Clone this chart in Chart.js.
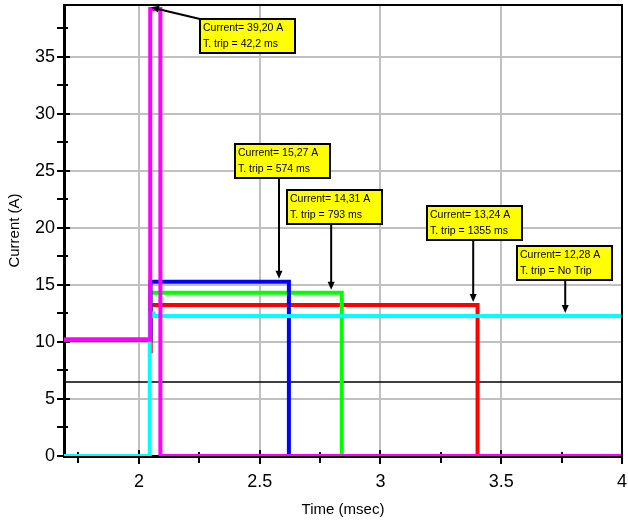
<!DOCTYPE html>
<html>
<head>
<meta charset="utf-8">
<script src="https://cdn.jsdelivr.net/npm/chart.js@4.4.0/dist/chart.umd.min.js"></script>
<style>
  html, body { margin: 0; padding: 0; background: #fff; }
  #trip-chart { display: block; }
</style>
</head>
<body>
<canvas id="trip-chart" width="628" height="522"></canvas>
<script>
const xMin = 1.69
const xMax = 4
const yMax = 39.55

// traces: time and current (A)
const magentaTime = [1.69, 2.047, 2.047, 2.089, 2.089, 4]
const magentaCurrent = [10.2, 10.2, 39.2, 39.2, 0, 0]
const blueTime = [1.69, 2.048, 2.048, 2.621, 2.621, 4]
const blueCurrent = [10.2, 10.2, 15.27, 15.27, 0, 0]
const greenTime = [1.69, 2.048, 2.048, 2.84, 2.84, 4]
const greenCurrent = [10.2, 10.2, 14.31, 14.31, 0, 0]
const redTime = [1.69, 2.047, 2.047, 2.05, 2.05, 3.402, 3.402, 4]
const redCurrent = [10.2, 10.2, 9.0, 9.0, 13.24, 13.24, 0, 0]
const cyanTime = [1.69, 2.045, 2.045, 2.06, 2.06, 4]
const cyanCurrent = [0, 0, 12.5, 12.5, 12.28, 12.28]
const thresholdTime = [1.69, 4]
const thresholdCurrent = [6.5, 6.5]

const xTicks = [2, 2.5, 3, 3.5, 4]
const xMinorTicks = [1.75, 2.25, 2.75, 3.25, 3.75]
const yTicks = [0, 5, 10, 15, 20, 25, 30, 35]
const yMinorTicks = [2.5, 7.5, 12.5, 17.5, 22.5, 27.5, 32.5, 37.5]

// callouts: text, the point each one points at, and where its box sits
const noteLines = [
  ['Current= 39,20 A', 'T. trip = 42,2 ms'],
  ['Current= 15,27 A', 'T. trip = 574 ms'],
  ['Current= 14,31 A', 'T. trip = 793 ms'],
  ['Current= 13,24 A', 'T. trip = 1355 ms'],
  ['Current= 12,28 A', 'T. trip = No Trip']
]
const noteTime = [2.05, 2.58, 2.796, 3.384, 3.765]
const noteCurrent = [39.35, 15.27, 14.31, 13.24, 12.28]
const noteBoxTime = [2.253, 2.398, 2.613, 3.193, 3.566]
const noteBoxCurrent = [38.33, 27.37, 23.33, 21.93, 18.42]

const FONT = '"Liberation Sans", Arial, sans-serif'

const toPoints = (xs, ys) => xs.map((x, i) => ({ x: x, y: ys[i] }))

const trace = (pts, color, width) => ({
  data: pts,
  borderColor: color,
  backgroundColor: color,
  borderWidth: width || 4,
  pointRadius: 0,
  tension: 0,
  fill: false
})

const arrow = (ctx, x0, y0, x1, y1) => {
  const ang = Math.atan2(y1 - y0, x1 - x0)
  ctx.beginPath()
  ctx.moveTo(x0, y0)
  ctx.lineTo(x1 - Math.cos(ang) * 5, y1 - Math.sin(ang) * 5)
  ctx.stroke()
  ctx.beginPath()
  ctx.moveTo(x1, y1)
  ctx.lineTo(x1 - Math.cos(ang) * 8 + Math.sin(ang) * 3.5, y1 - Math.sin(ang) * 8 - Math.cos(ang) * 3.5)
  ctx.lineTo(x1 - Math.cos(ang) * 8 - Math.sin(ang) * 3.5, y1 - Math.sin(ang) * 8 + Math.cos(ang) * 3.5)
  ctx.closePath()
  ctx.fill()
}

// no extra room for edge labels, the frame fills the canvas like the scope print
const noEdgePadding = scale => {
  scale.paddingLeft = 0
  scale.paddingRight = 0
  scale.paddingTop = 0
  scale.paddingBottom = 0
}

const scopeFrame = {
  id: 'scopeFrame',
  beforeDatasetsDraw (chart) {
    const { ctx, chartArea: a, scales: { x, y } } = chart
    ctx.save()
    ctx.strokeStyle = '#000'
    ctx.lineWidth = 2
    ctx.beginPath()
    xTicks.forEach(v => {
      const px = Math.round(x.getPixelForValue(v))
      ctx.moveTo(px, a.bottom - 6)
      ctx.lineTo(px, a.bottom + 8)
    })
    xMinorTicks.forEach(v => {
      const px = Math.round(x.getPixelForValue(v))
      ctx.moveTo(px, a.bottom - 4)
      ctx.lineTo(px, a.bottom + 7)
    })
    yTicks.forEach(v => {
      const py = Math.round(y.getPixelForValue(v))
      ctx.moveTo(a.left - 7, py)
      ctx.lineTo(a.left + 6, py)
    })
    yMinorTicks.forEach(v => {
      const py = Math.round(y.getPixelForValue(v))
      ctx.moveTo(a.left - 7, py)
      ctx.lineTo(a.left + 4, py)
    })
    ctx.stroke()
    ctx.restore()
  },
  afterDatasetsDraw (chart) {
    const { ctx, chartArea: a, scales: { x, y } } = chart
    ctx.save()
    ctx.strokeStyle = '#000'
    ctx.lineWidth = 2
    ctx.beginPath()
    ctx.moveTo(a.left, a.top)
    ctx.lineTo(a.right, a.top)
    ctx.lineTo(a.right, a.bottom)
    ctx.stroke()

    noteLines.forEach((lines, i) => {
      const px = x.getPixelForValue(noteTime[i])
      const py = y.getPixelForValue(noteCurrent[i])
      const bx = Math.round(x.getPixelForValue(noteBoxTime[i]))
      const by = Math.round(y.getPixelForValue(noteBoxCurrent[i]))
      const w = 95
      const h = 34
      ctx.lineWidth = 2
      ctx.fillStyle = '#000'
      ctx.strokeStyle = '#000'
      if (py > by + h) arrow(ctx, px, by + h, px, py - 3)
      else arrow(ctx, bx, by, px, py)

      ctx.fillStyle = '#ffff00'
      ctx.fillRect(bx, by, w, h)
      ctx.strokeRect(bx, by, w, h)
      ctx.fillStyle = '#000'
      ctx.font = '10.5px ' + FONT
      ctx.textAlign = 'left'
      ctx.textBaseline = 'alphabetic'
      ctx.fillText(lines[0], bx + 3, by + 12)
      ctx.fillText(lines[1], bx + 3, by + 28)
    })
    ctx.restore()
  }
}

const ctx = document.querySelector('#trip-chart').getContext('2d')

const chart = new Chart(ctx, {
  type: 'line',
  data: {
    datasets: [
      trace(toPoints(magentaTime, magentaCurrent), '#ff00ff'),
      trace(toPoints(cyanTime, cyanCurrent), '#00ffff'),
      trace(toPoints(blueTime, blueCurrent), '#0000ff'),
      trace(toPoints(greenTime, greenCurrent), '#00ff00'),
      trace(toPoints(redTime, redCurrent), '#ff0000'),
      trace(toPoints(thresholdTime, thresholdCurrent), '#000000', 1.5)
    ]
  },
  options: {
    responsive: false,
    animation: false,
    layout: { padding: { top: 5, right: 6, left: 0, bottom: 0 } },
    plugins: {
      legend: { display: false },
      tooltip: { enabled: false }
    },
    scales: {
      x: {
        type: 'linear',
        min: xMin,
        max: xMax,
        afterBuildTicks: scale => { scale.ticks = xTicks.map(v => ({ value: v })) },
        afterFit: scale => { scale.height = 66; noEdgePadding(scale) },
        grid: { color: '#c0c0c0', lineWidth: 2, drawTicks: false },
        border: { color: '#000', width: 3 },
        ticks: {
          padding: 15,
          color: '#000',
          font: { family: FONT, size: 18 },
          maxRotation: 0,
          callback: v => String(v)
        },
        title: {
          display: true,
          text: 'Time (msec)',
          color: '#000',
          font: { family: FONT, size: 15 },
          padding: { top: 0, bottom: 3 }
        }
      },
      y: {
        min: 0,
        max: yMax,
        afterBuildTicks: scale => { scale.ticks = yTicks.map(v => ({ value: v })) },
        afterFit: scale => { scale.width = 64; noEdgePadding(scale) },
        grid: { color: '#c0c0c0', lineWidth: 2, drawTicks: false },
        border: { color: '#000', width: 3 },
        ticks: {
          padding: 9,
          color: '#000',
          font: { family: FONT, size: 18 },
          callback: v => String(v)
        },
        title: {
          display: true,
          text: 'Current (A)',
          color: '#000',
          font: { family: FONT, size: 15 },
          padding: { top: 6, bottom: 0 }
        }
      }
    }
  },
  plugins: [scopeFrame]
})
</script>
</body>
</html>
